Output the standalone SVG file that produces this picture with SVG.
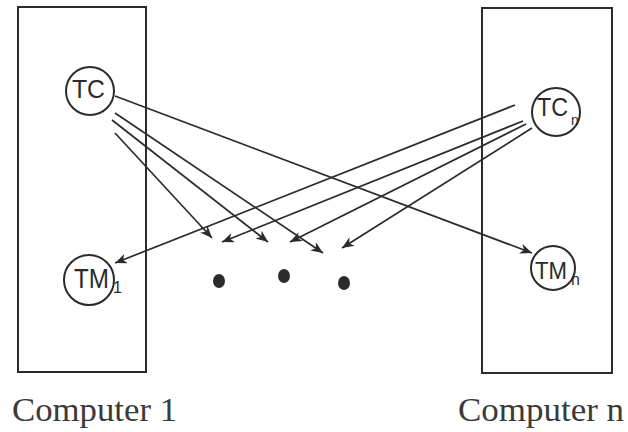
<svg xmlns="http://www.w3.org/2000/svg" width="628" height="432" viewBox="0 0 628 432">
<defs>
<style>
.box{fill:none;stroke:#2b2b2b;stroke-width:2}
.node{fill:none;stroke:#2b2b2b;stroke-width:2}
.lbl{font-family:"Liberation Sans",Arial,sans-serif;fill:#2b2b2b}
.cap{font-family:"Liberation Serif","Times New Roman",serif;font-size:33px;fill:#3a3a3a}
.edge{fill:none;stroke:#2b2b2b;stroke-width:1.7}
.dot{fill:#2b2b2b}
</style>
<marker id="arr" markerUnits="userSpaceOnUse" markerWidth="13" markerHeight="11" refX="12" refY="5" orient="auto">
<path d="M0,0 L12,5 L0,10 L3.5,5 z" fill="#2b2b2b"/>
</marker>
</defs>
<rect width="628" height="432" fill="#ffffff"/>
<g id="computer1">
<rect class="box" x="18" y="7" width="128" height="365"/>
<text class="cap" x="12" y="421" textLength="165" lengthAdjust="spacingAndGlyphs">Computer 1</text>
</g>
<g id="computern">
<rect class="box" x="482" y="8" width="130" height="365"/>
<text class="cap" x="458" y="421" textLength="166" lengthAdjust="spacingAndGlyphs">Computer n</text>
</g>
<g id="tc1">
<circle class="node" cx="90" cy="91" r="24"/>
<text class="lbl" x="72" y="98" font-size="26" textLength="33" lengthAdjust="spacingAndGlyphs">TC</text>
</g>
<g id="tcn">
<circle class="node" cx="556" cy="112" r="24"/>
<text class="lbl" x="537" y="116" font-size="26" textLength="31" lengthAdjust="spacingAndGlyphs">TC</text>
<text class="lbl" x="571" y="125" font-size="14">n</text>
</g>
<g id="tm1">
<circle class="node" cx="89" cy="280" r="25"/>
<text class="lbl" x="74" y="288" font-size="27" textLength="35" lengthAdjust="spacingAndGlyphs">TM</text>
<text class="lbl" x="113" y="293" font-size="16">1</text>
</g>
<g id="tmn">
<circle class="node" cx="553" cy="268" r="22"/>
<text class="lbl" x="535" y="279" font-size="24" textLength="32" lengthAdjust="spacingAndGlyphs">TM</text>
<text class="lbl" x="571" y="285" font-size="16">n</text>
</g>
<g id="dots">
<ellipse class="dot" cx="219" cy="281" rx="6" ry="7"/>
<ellipse class="dot" cx="284" cy="276" rx="6" ry="7"/>
<ellipse class="dot" cx="344" cy="283" rx="6" ry="7"/>
</g>
<g id="connectors">
<line class="edge" x1="115" y1="96" x2="532" y2="253" marker-end="url(#arr)"/>
<line class="edge" x1="115" y1="113" x2="323" y2="253" marker-end="url(#arr)"/>
<line class="edge" x1="112" y1="120" x2="268" y2="242" marker-end="url(#arr)"/>
<line class="edge" x1="115" y1="133" x2="212" y2="238" marker-end="url(#arr)"/>
<line class="edge" x1="515" y1="105" x2="115" y2="263" marker-end="url(#arr)"/>
<line class="edge" x1="523" y1="121" x2="222" y2="242" marker-end="url(#arr)"/>
<line class="edge" x1="526" y1="124" x2="290" y2="242" marker-end="url(#arr)"/>
<line class="edge" x1="532" y1="128" x2="342" y2="248" marker-end="url(#arr)"/>
</g>
</svg>
